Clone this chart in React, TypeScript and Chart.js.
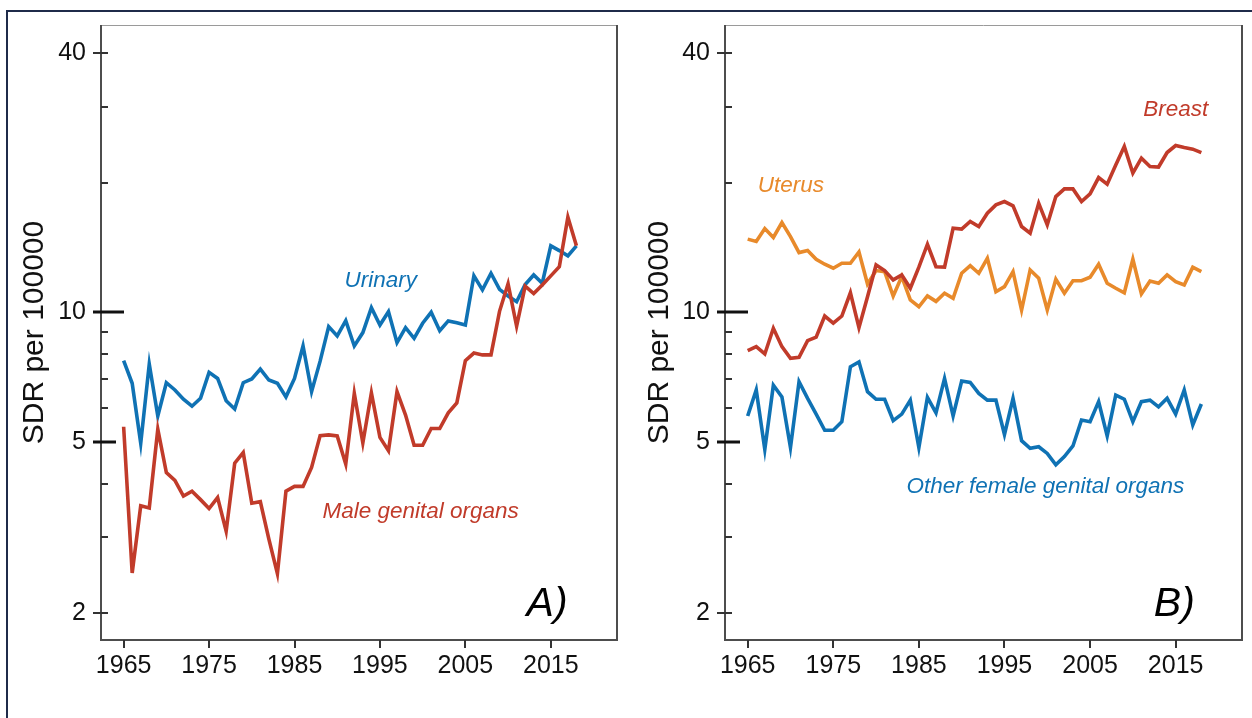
import React, { useEffect, useRef } from "react";
import { Chart, registerables } from "chart.js";

Chart.register(...registerables);

const FONT = '"Liberation Sans", Arial, Helvetica, sans-serif';
const BLUE = "#0f72b4";
const RED = "#c13b2a";
const ORANGE = "#e88a2b";

const years = [
  1965, 1966, 1967, 1968, 1969, 1970, 1971, 1972, 1973, 1974,
  1975, 1976, 1977, 1978, 1979, 1980, 1981, 1982, 1983, 1984,
  1985, 1986, 1987, 1988, 1989, 1990, 1991, 1992, 1993, 1994,
  1995, 1996, 1997, 1998, 1999, 2000, 2001, 2002, 2003, 2004,
  2005, 2006, 2007, 2008, 2009, 2010, 2011, 2012, 2013, 2014,
  2015, 2016, 2017, 2018,
];

// Panel A
const urinary = [
  7.72, 6.84, 4.96, 7.58, 5.74, 6.86, 6.6, 6.28, 6.05, 6.31,
  7.25, 7.02, 6.23, 5.96, 6.86, 7.0, 7.38, 6.96, 6.84, 6.36,
  7.02, 8.35, 6.54, 7.7, 9.26, 8.81, 9.56, 8.35, 8.97, 10.25,
  9.34, 10.03, 8.5, 9.21, 8.7, 9.43, 10.0, 9.06, 9.55, 9.46,
  9.34, 12.16, 11.27, 12.32, 11.3, 10.91, 10.58, 11.6, 12.21, 11.68,
  14.27, 13.91, 13.52, 14.27,
];
const maleGenital = [
  5.42, 2.48, 3.55, 3.51, 5.35, 4.24, 4.07, 3.74, 3.84, 3.67,
  3.5, 3.71, 3.1, 4.46, 4.72, 3.6, 3.63, 2.97, 2.47, 3.84,
  3.94, 3.94, 4.36, 5.17, 5.19, 5.16, 4.44, 6.48, 4.97, 6.5,
  5.12, 4.77, 6.54, 5.77, 4.91, 4.91, 5.37, 5.37, 5.84, 6.16,
  7.72, 8.04, 7.96, 7.96, 10.05, 11.65, 9.28, 11.5, 11.05, 11.57,
  12.15, 12.76, 16.63, 14.27,
];

// Panel B
const breast = [
  8.14, 8.32, 8.0, 9.18, 8.32, 7.82, 7.86, 8.59, 8.75, 9.8,
  9.43, 9.8, 11.1, 9.21, 10.87, 12.88, 12.5, 11.89, 12.21, 11.37,
  12.73, 14.39, 12.76, 12.73, 15.68, 15.6, 16.25, 15.82, 16.99, 17.76,
  18.08, 17.67, 15.82, 15.27, 17.92, 15.96, 18.57, 19.35, 19.35, 18.08,
  18.84, 20.56, 19.85, 22.0, 24.27, 21.05, 22.8, 21.81, 21.75, 23.5,
  24.4, 24.14, 23.93, 23.5,
];
const uterus = [
  14.79, 14.6, 15.65, 14.92, 16.16, 14.99, 13.76, 13.91, 13.28, 12.93,
  12.66, 13.0, 13.0, 13.81, 11.63, 12.5, 12.43, 10.91, 12.1, 10.68,
  10.3, 10.91, 10.6, 11.07, 10.78, 12.32, 12.83, 12.32, 13.35, 11.16,
  11.47, 12.43, 10.12, 12.54, 12.0, 10.12, 11.93, 11.07, 11.84, 11.84,
  12.06, 12.93, 11.68, 11.37, 11.1, 13.28, 11.03, 11.82, 11.68, 12.21,
  11.78, 11.57, 12.73, 12.43,
];
const otherFemale = [
  5.74, 6.6, 4.8, 6.77, 6.36, 4.85, 6.9, 6.31, 5.8, 5.32,
  5.32, 5.57, 7.47, 7.67, 6.54, 6.28, 6.28, 5.6, 5.8, 6.25,
  4.85, 6.34, 5.84, 7.02, 5.74, 6.92, 6.87, 6.48, 6.25, 6.25,
  5.2, 6.31, 5.03, 4.83, 4.87, 4.7, 4.42, 4.62, 4.89, 5.62,
  5.57, 6.2, 5.16, 6.42, 6.28, 5.57, 6.2, 6.25, 6.03, 6.31,
  5.8, 6.6, 5.47, 6.12,
];

const yTickValues = [2, 3, 4, 5, 6, 7, 8, 9, 10, 20, 30, 40];
const yTickLabels = [2, 5, 10, 40];
const xTickYears = [1965, 1975, 1985, 1995, 2005, 2015];

const Y_MIN = 1.732;
const Y_MAX = 46.5;
const X_MIN = 1962.35;
const X_MAX = 2022.75;

type Series = { name: string; values: number[]; color: string };
type Note = { text: string; year: number; value: number; color: string; size: number };

const panelASeries: Series[] = [
  { name: "Male genital organs", values: maleGenital, color: RED },
  { name: "Urinary", values: urinary, color: BLUE },
];
const panelBSeries: Series[] = [
  { name: "Breast", values: breast, color: RED },
  { name: "Uterus", values: uterus, color: ORANGE },
  { name: "Other female genital organs", values: otherFemale, color: BLUE },
];

const panelANotes: Note[] = [
  { text: "Urinary", year: 1990.84, value: 11.45, color: BLUE, size: 22.5 },
  { text: "Male genital organs", year: 1988.27, value: 3.32, color: RED, size: 22.5 },
  { text: "A)", year: 2012.17, value: 1.966, color: "#000", size: 41 },
];
const panelBNotes: Note[] = [
  { text: "Breast", year: 2011.2, value: 28.6, color: RED, size: 22.5 },
  { text: "Uterus", year: 1966.17, value: 19.08, color: ORANGE, size: 22.5 },
  { text: "Other female genital organs", year: 1983.56, value: 3.8, color: BLUE, size: 22.5 },
  { text: "B)", year: 2012.45, value: 1.966, color: "#000", size: 41 },
];

const decor = {
  id: "decor",
  afterDraw(chart: any, _args: any, opts: any) {
    const { ctx, chartArea: a, scales } = chart;
    const ys = scales.y;
    const xs = scales.x;
    ctx.save();
    ctx.lineCap = "butt";
    // plot box
    ctx.strokeStyle = "#9a9a9a";
    ctx.lineWidth = 1;
    ctx.beginPath();
    ctx.moveTo(a.left, a.top + 0.5);
    ctx.lineTo(a.right, a.top + 0.5);
    ctx.stroke();
    ctx.strokeStyle = "#4d4d4d";
    ctx.lineWidth = 2;
    ctx.beginPath();
    ctx.moveTo(a.left, a.top);
    ctx.lineTo(a.left, a.bottom);
    ctx.lineTo(a.right, a.bottom);
    ctx.lineTo(a.right, a.top);
    ctx.stroke();
    // y tick marks
    for (const v of yTickValues) {
      const py = Math.round(ys.getPixelForValue(v));
      const labelled = yTickLabels.includes(v);
      const x0 = labelled ? a.left - 8 : a.left;
      let x1 = a.left + 7;
      let w = 2;
      let col = "#333";
      if (v === 10) {
        x1 = a.left + 23;
        w = 3;
        col = "#111";
      } else if (v === 5) {
        x1 = a.left + 15;
        w = 3;
        col = "#111";
      }
      ctx.strokeStyle = col;
      ctx.lineWidth = w;
      ctx.beginPath();
      ctx.moveTo(x0, py);
      ctx.lineTo(x1, py);
      ctx.stroke();
    }
    // x tick marks
    ctx.strokeStyle = "#333";
    ctx.lineWidth = 2;
    for (const yr of xTickYears) {
      const px = Math.round(xs.getPixelForValue(yr));
      ctx.beginPath();
      ctx.moveTo(px, a.bottom);
      ctx.lineTo(px, a.bottom + 8);
      ctx.stroke();
    }
    // annotations
    const notes: Note[] = (opts && opts.notes) || [];
    ctx.textAlign = "left";
    ctx.textBaseline = "alphabetic";
    for (const n of notes) {
      ctx.font = `italic ${n.size}px ${FONT}`;
      ctx.fillStyle = n.color;
      ctx.fillText(n.text, xs.getPixelForValue(n.year), ys.getPixelForValue(n.value));
    }
    ctx.restore();
  },
};

function Panel({ left, yWidth, series, notes }: { left: number; yWidth: number; series: Series[]; notes: Note[] }) {
  const ref = useRef<HTMLCanvasElement>(null);
  useEffect(() => {
    const chart = new Chart(ref.current as HTMLCanvasElement, {
      type: "line",
      data: {
        datasets: series.map((s) => ({
          label: s.name,
          data: years.map((yr, i) => ({ x: yr, y: s.values[i] })),
          borderColor: s.color,
          backgroundColor: s.color,
          borderWidth: 3.6,
          pointRadius: 0,
          fill: false,
          tension: 0,
          borderJoinStyle: "miter",
        })),
      },
      options: {
        responsive: false,
        animation: false,
        events: [],
        layout: { padding: { left: 0, top: 25, right: 9, bottom: 0 } },
        plugins: {
          legend: { display: false },
          tooltip: { enabled: false },
          decor: { notes },
        } as any,
        scales: {
          x: {
            type: "linear",
            min: X_MIN,
            max: X_MAX,
            grid: { display: false, drawTicks: false },
            border: { display: false },
            afterBuildTicks: (s: any) => {
              s.ticks = xTickYears.map((v) => ({ value: v }));
            },
            afterFit: (s: any) => {
              s.height = 78;
              s.paddingLeft = 0;
              s.paddingRight = 0;
            },
            ticks: {
              autoSkip: false,
              maxRotation: 0,
              minRotation: 0,
              padding: 11,
              color: "#111",
              font: { family: FONT, size: 25 },
              callback: (v: any) => String(v),
            },
          },
          y: {
            type: "logarithmic",
            min: Y_MIN,
            max: Y_MAX,
            grid: { display: false, drawTicks: false },
            border: { display: false },
            afterBuildTicks: (s: any) => {
              s.ticks = yTickValues.map((v) => ({ value: v }));
            },
            afterFit: (s: any) => {
              s.width = yWidth;
              s.paddingTop = 0;
              s.paddingBottom = 0;
            },
            title: {
              display: true,
              text: "SDR per 100000",
              color: "#111",
              font: { family: FONT, size: 30 },
              padding: { top: 17, bottom: 0 },
            },
            ticks: {
              autoSkip: false,
              padding: 15,
              color: "#111",
              font: { family: FONT, size: 25 },
              callback: (v: any) => (yTickLabels.includes(Number(v)) ? String(v) : ""),
            },
          },
        } as any,
      },
      plugins: [decor],
    } as any);
    return () => chart.destroy();
  }, []);
  return (
    <canvas
      ref={ref}
      width={626}
      height={718}
      style={{ position: "absolute", left, top: 0, width: 626, height: 718 }}
    />
  );
}

export default function App() {
  return (
    <div
      style={{
        position: "absolute",
        left: 0,
        top: 0,
        width: 1252,
        height: 718,
        overflow: "hidden",
        background: "#fff",
      }}
    >
      <div
        style={{
          position: "absolute",
          left: 6,
          top: 10,
          width: 1400,
          height: 900,
          border: "2px solid #1f2b4a",
        }}
      />
      <Panel left={0} yWidth={101} series={panelASeries} notes={panelANotes} />
      <Panel left={625} yWidth={100} series={panelBSeries} notes={panelBNotes} />
    </div>
  );
}
